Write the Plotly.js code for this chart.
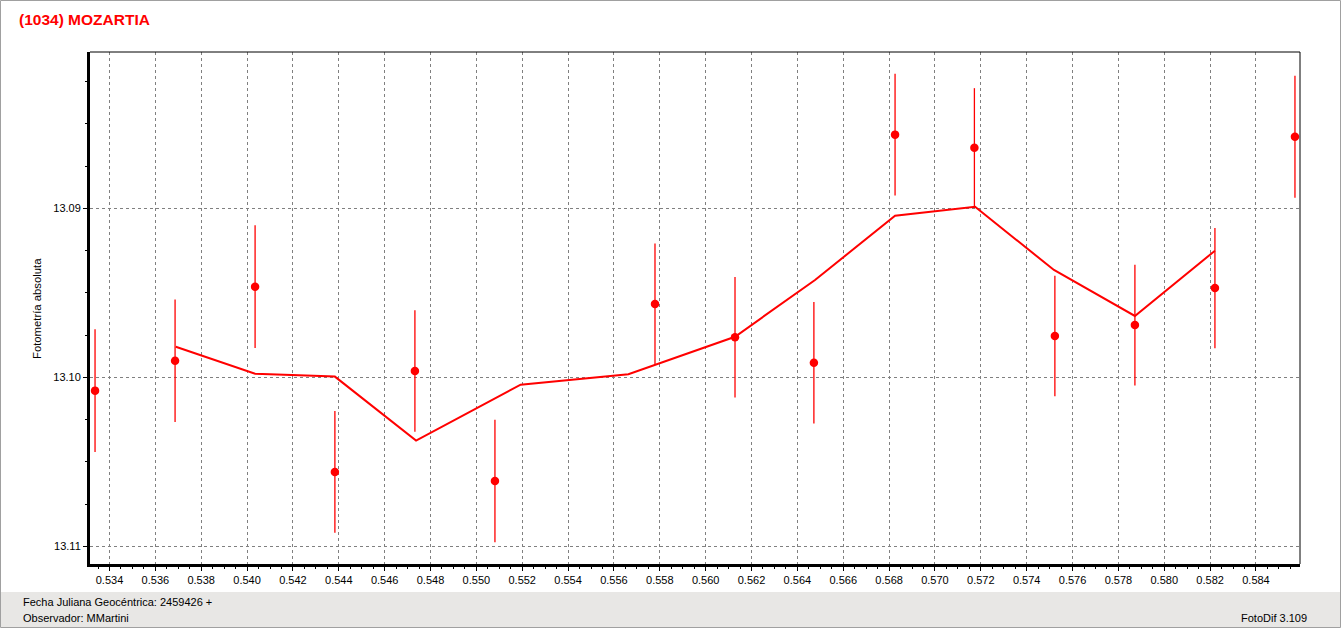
<!DOCTYPE html>
<html>
<head>
<meta charset="utf-8">
<script src="https://cdn.plot.ly/plotly-3.0.1.min.js"></script>
<style>
  html, body { margin: 0; padding: 0; background: #ffffff; }
  #chart { width: 1344px; height: 630px; }
</style>
</head>
<body>
<div id="chart"></div>
<script>
// ---- Data ----
const chartTitle = "(1034) MOZARTIA";
const yTitle = "Fotometría absoluta";
const footerLeft1 = "Fecha Juliana Geocéntrica: 2459426 +";
const footerLeft2 = "Observador: MMartini";
const footerRight = "FotoDif 3.109";

// Observations (JD fraction, magnitude, error)
const obsX = [0.53337, 0.53686, 0.54035, 0.54383, 0.54732, 0.55081, 0.55779, 0.56128,
              0.56472, 0.56826, 0.57172, 0.57523, 0.57872, 0.58221, 0.58570];
const obsY = [13.10079, 13.09902, 13.09464, 13.10560, 13.09963, 13.10614, 13.09566, 13.09763,
              13.09914, 13.08564, 13.08641, 13.09756, 13.09691, 13.09472, 13.08576];
const obsErr = [0.00363, 0.00363, 0.00363, 0.00360, 0.00360, 0.00363, 0.00358, 0.00357,
                0.00360, 0.00360, 0.00352, 0.00357, 0.00357, 0.00356, 0.00361];

// Fitted curve vertices
const fitX = [0.53689, 0.54035, 0.54383, 0.54737, 0.55193, 0.55663, 0.56128,
              0.56477, 0.56826, 0.57175, 0.57519, 0.57872, 0.58221];
const fitY = [13.09819, 13.09979, 13.09996, 13.10375, 13.10044, 13.09982, 13.09760,
              13.09424, 13.09044, 13.08991, 13.09365, 13.09637, 13.09251];

// ---- Layout helpers (pixel -> paper coordinates for decorations) ----
const W = 1344, H = 630;
const L = 90, R = 1300, T = 52, B = 564;
const xp = px => (px - L) / (R - L);
const yp = py => (B - py) / (B - T);

const red = "#ff0000";
const gridCol = "#808080";
const font = "'Liberation Sans', Arial, sans-serif";

const traces = [
  {
    type: "scatter", mode: "lines",
    x: fitX, y: fitY,
    line: { color: red, width: 2 },
    hoverinfo: "skip", showlegend: false
  },
  {
    type: "scatter", mode: "markers",
    x: obsX, y: obsY,
    marker: { color: red, size: 8.5, symbol: "circle" },
    error_y: { type: "data", array: obsErr, visible: true, color: red, thickness: 1.3, width: 0 },
    showlegend: false
  }
];

const layout = {
  width: W, height: H,
  margin: { l: L, r: W - R, t: T, b: H - B, pad: 0 },
  paper_bgcolor: "#ffffff",
  plot_bgcolor: "#ffffff",
  font: { family: font, size: 11, color: "#000000" },
  showlegend: false,
  xaxis: {
    range: [0.53315, 0.58592],
    tick0: 0.534, dtick: 0.002, tickformat: ".3f",
    showgrid: true, gridcolor: gridCol, gridwidth: 1, griddash: "3px,3px",
    ticks: "outside", ticklen: 4, tickcolor: "#000000", tickwidth: 1,
    showline: true, linecolor: "#000000", linewidth: 2.5,
    zeroline: false,
    tickfont: { family: font, size: 11, color: "#000000" },
    minor: { dtick: 0.0005, ticks: "outside", ticklen: 2, tickcolor: "#000000", showgrid: false }
  },
  yaxis: {
    range: [13.11105, 13.08075],
    tick0: 13.09, dtick: 0.01, tickformat: ".2f",
    showgrid: true, gridcolor: gridCol, gridwidth: 1, griddash: "3px,3px",
    ticks: "outside", ticklen: 4, tickcolor: "#000000", tickwidth: 1,
    showline: true, linecolor: "#000000", linewidth: 3,
    zeroline: false,
    tickfont: { family: font, size: 11, color: "#000000" },
    minor: { dtick: 0.0025, ticks: "outside", ticklen: 2, tickcolor: "#000000", showgrid: false }
  },
  shapes: [
    // footer band
    { type: "rect", xref: "paper", yref: "paper", layer: "below",
      x0: xp(1), x1: xp(1341), y0: yp(592), y1: yp(627.5),
      fillcolor: "#e8e7e5", line: { width: 0 } },
    // outer window border
    { type: "rect", xref: "paper", yref: "paper", layer: "above",
      x0: xp(0.5), x1: xp(1340.5), y0: yp(627.5), y1: yp(0.5),
      fillcolor: "rgba(0,0,0,0)", line: { color: "#a0a0a0", width: 1 } },
    // top and right plot frame lines
    { type: "line", xref: "paper", yref: "paper", layer: "above",
      x0: 0, x1: 1, y0: 1, y1: 1, line: { color: "#000000", width: 1 } },
    { type: "line", xref: "paper", yref: "paper", layer: "above",
      x0: 1, x1: 1, y0: 0, y1: 1, line: { color: "#000000", width: 1 } }
  ],
  annotations: [
    { text: "<b>" + chartTitle + "</b>", xref: "paper", yref: "paper",
      x: xp(17), y: yp(19), xanchor: "left", yanchor: "middle", showarrow: false,
      font: { family: font, size: 15.5, color: red } },
    { text: yTitle, xref: "paper", yref: "paper", textangle: -90,
      x: xp(37), y: yp(309), xanchor: "center", yanchor: "middle", showarrow: false,
      font: { family: font, size: 11.3, color: "#000000" } },
    { text: footerLeft1, xref: "paper", yref: "paper",
      x: xp(21), y: yp(602), xanchor: "left", yanchor: "middle", showarrow: false,
      font: { family: font, size: 11, color: "#000000" } },
    { text: footerLeft2, xref: "paper", yref: "paper",
      x: xp(21), y: yp(618), xanchor: "left", yanchor: "middle", showarrow: false,
      font: { family: font, size: 11, color: "#000000" } },
    { text: footerRight, xref: "paper", yref: "paper",
      x: xp(1309), y: yp(618), xanchor: "right", yanchor: "middle", showarrow: false,
      font: { family: font, size: 11, color: "#000000" } }
  ]
};

Plotly.newPlot("chart", traces, layout, { displayModeBar: false, staticPlot: true });
</script>
</body>
</html>
